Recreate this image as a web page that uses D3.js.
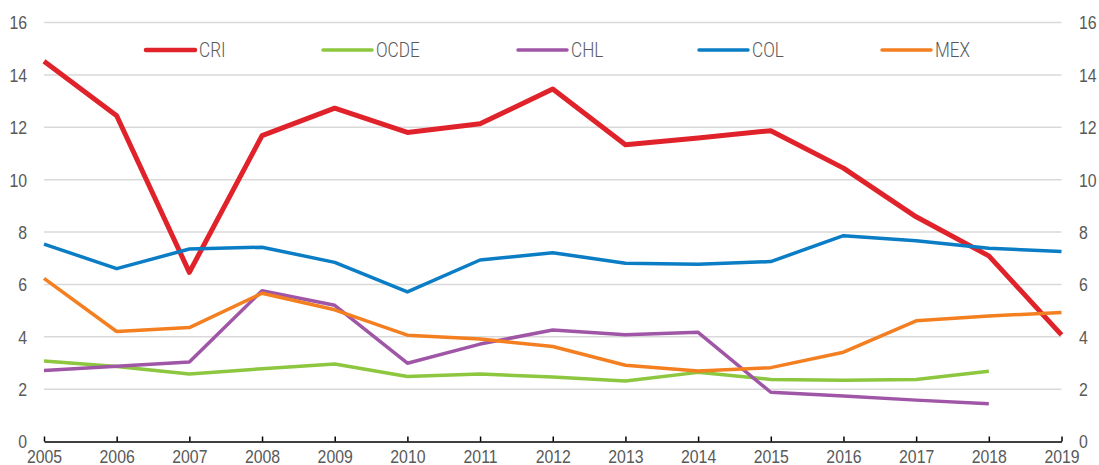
<!DOCTYPE html>
<html>
<head>
<meta charset="utf-8">
<script src="https://cdn.jsdelivr.net/npm/d3@7"></script>
<style>
  body { margin: 0; background: #fff; }
  svg { display: block; font-family: Roboto, "Liberation Sans", sans-serif; }
</style>
</head>
<body>
<div id="chart"></div>
<script>
// data
var years = [2005, 2006, 2007, 2008, 2009, 2010, 2011, 2012, 2013, 2014, 2015, 2016, 2017, 2018, 2019];
var yTicks = [0, 2, 4, 6, 8, 10, 12, 14, 16];
var seriesNames = ["CRI", "OCDE", "CHL", "COL", "MEX"];
var cri  = [14.52, 12.44, 6.46, 11.68, 12.73, 11.80, 12.13, 13.46, 11.33, 11.59, 11.87, 10.44, 8.58, 7.09, 4.07];
var ocde = [3.07, 2.86, 2.58, 2.78, 2.96, 2.48, 2.58, 2.46, 2.31, 2.64, 2.37, 2.34, 2.37, 2.68];
var chl  = [2.71, 2.87, 3.04, 5.76, 5.20, 2.99, 3.72, 4.26, 4.08, 4.17, 1.88, 1.74, 1.58, 1.44];
var col  = [7.54, 6.60, 7.35, 7.42, 6.84, 5.71, 6.93, 7.21, 6.81, 6.77, 6.87, 7.86, 7.67, 7.38, 7.26];
var mex  = [6.23, 4.20, 4.35, 5.66, 5.03, 4.06, 3.91, 3.63, 2.91, 2.69, 2.82, 3.41, 4.61, 4.79, 4.93];

var colors = {CRI: "#e0232b", OCDE: "#8dc63f", CHL: "#a056a6", COL: "#0a7dc5", MEX: "#f47f20"};
var widths = {CRI: 5, OCDE: 3.5, CHL: 3.5, COL: 3.5, MEX: 3.5};
var values = {CRI: cri, OCDE: ocde, CHL: chl, COL: col, MEX: mex};

var W = 1099, H = 465;
var textColor = "#595959";

var svg = d3.select("#chart")
    .append("svg")
        .attr("width", W)
        .attr("height", H);

var x = d3.scaleLinear()
    .domain([2005, 2019])
    .range([44, 1061.5]);
var y = d3.scaleLinear()
    .domain([0, 16])
    .range([441.5, 22.5]);

// gridlines
svg.append("g")
    .selectAll("line")
    .data(yTicks.filter(function(d) { return d > 0; }))
    .enter().append("line")
        .attr("x1", x(2005))
        .attr("x2", x(2019))
        .attr("y1", function(d) { return y(d); })
        .attr("y2", function(d) { return y(d); })
        .attr("stroke", "#d9d9d9")
        .attr("stroke-width", 1.5);

// left y labels
svg.append("g")
    .call(d3.axisLeft(y).tickValues(yTicks).tickSize(0).tickPadding(0))
    .attr("transform", "translate(27,0)")
    .call(function(g) { g.select(".domain").remove(); })
    .selectAll("text")
        .attr("fill", textColor)
        .style("font-size", "18px")
        .style("font-weight", 300)
        .attr("dy", "0.36em")
        .attr("transform", "scale(0.88,1)");

// right y labels
svg.append("g")
    .call(d3.axisRight(y).tickValues(yTicks).tickSize(0).tickPadding(0))
    .attr("transform", "translate(1079,0)")
    .call(function(g) { g.select(".domain").remove(); })
    .selectAll("text")
        .attr("fill", textColor)
        .style("font-size", "18px")
        .style("font-weight", 300)
        .attr("dy", "0.36em")
        .attr("transform", "scale(0.88,1)");

// x axis, ticks pointing up
var xAxis = svg.append("g")
    .attr("transform", "translate(0," + y(0) + ")")
    .call(d3.axisBottom(x).tickValues(years).tickFormat(d3.format("d")).tickSizeInner(-5).tickSizeOuter(0).tickPadding(0));
xAxis.select(".domain")
    .attr("stroke", "#000")
    .attr("stroke-width", 1.5);
xAxis.selectAll(".tick line")
    .attr("stroke", "#000")
    .attr("stroke-width", 1.5);
xAxis.selectAll("text")
    .attr("fill", textColor)
    .style("font-size", "18px")
    .style("font-weight", 300)
    .attr("y", 21.5)
    .attr("dy", 0)
    .attr("transform", "scale(0.88,1)");

// series lines
var line = d3.line()
    .x(function(d, i) { return x(years[i]); })
    .y(function(d) { return y(d); });

seriesNames.forEach(function(name) {
    svg.append("path")
        .datum(values[name])
        .attr("fill", "none")
        .attr("stroke", colors[name])
        .attr("stroke-width", widths[name])
        .attr("stroke-linejoin", "round")
        .attr("d", line);
});

// legend
var legendX = [146, 323, 518, 699, 882];
var legend = svg.append("g");
seriesNames.forEach(function(name, i) {
    var g = legend.append("g").attr("transform", "translate(" + legendX[i] + ",50)");
    g.append("line")
        .attr("x1", 0)
        .attr("x2", 49)
        .attr("stroke", colors[name])
        .attr("stroke-width", name == "CRI" ? 4.5 : 3.5)
        .attr("stroke-linecap", "round");
    g.append("text")
        .attr("x", 0)
        .attr("y", 7.3)
        .attr("transform", "translate(53,0) scale(0.88,1)")
        .attr("fill", textColor)
        .style("font-size", "19.5px")
        .style("font-weight", 300)
        .text(name);
});
</script>
</body>
</html>
